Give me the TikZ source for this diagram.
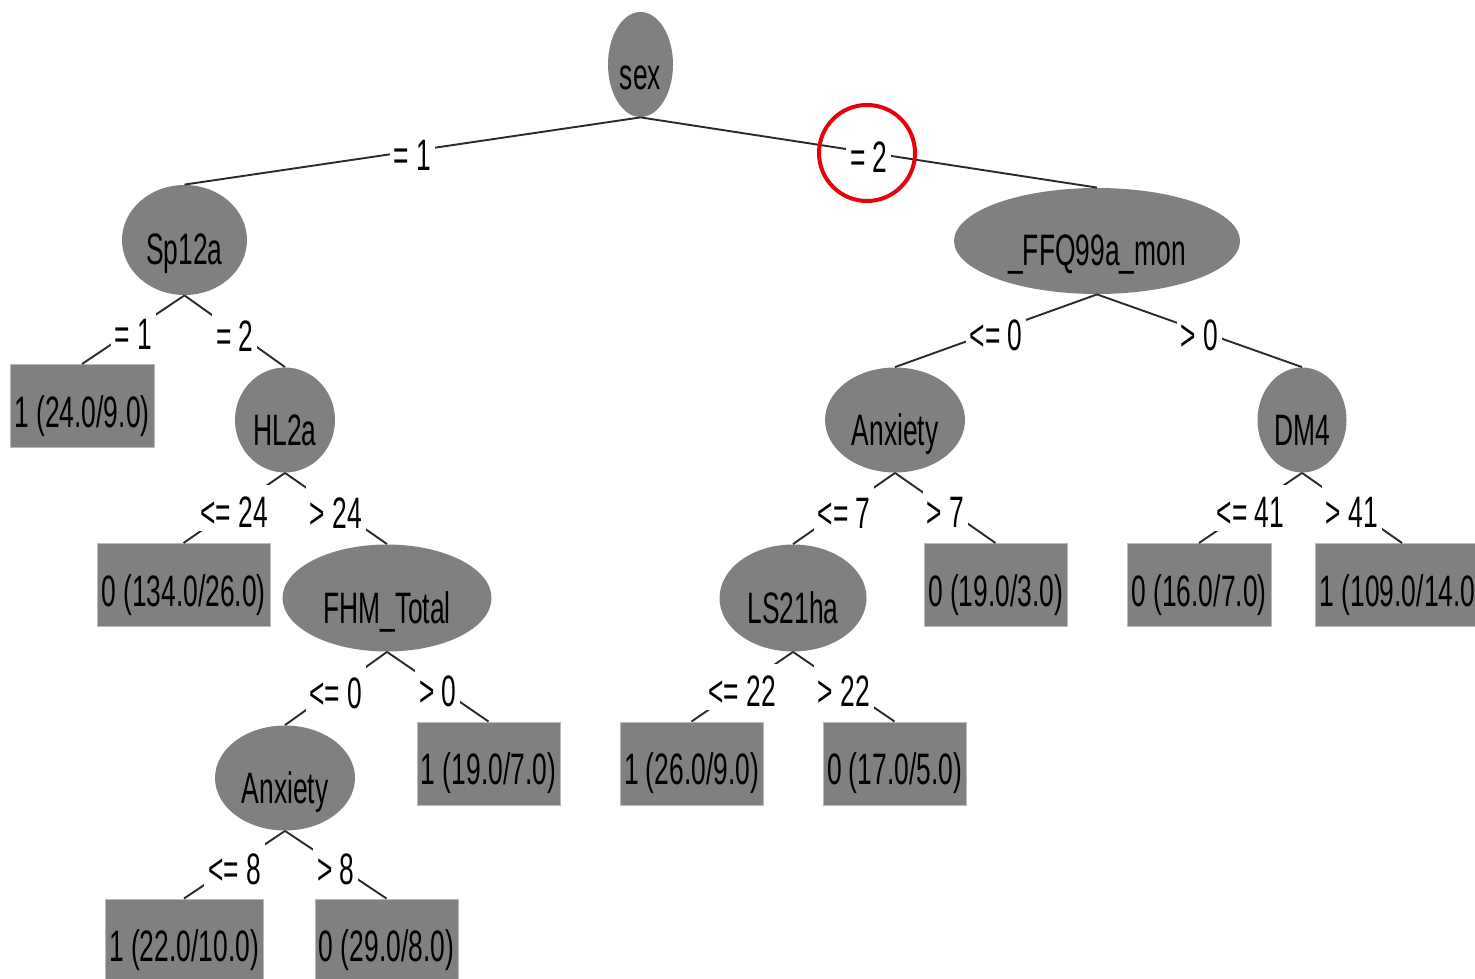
\documentclass[tikz,border=0pt]{standalone}
\usepackage{fontspec}
\newfontfamily\treefont[FakeStretch=0.6]{Liberation Sans}
\usetikzlibrary{shapes.geometric}
\definecolor{nodegray}{HTML}{808080}
\definecolor{edgegray}{HTML}{2A2A2A}
\definecolor{markred}{HTML}{E8000B}
\begin{document}
\begin{tikzpicture}[x=0.5pt,y=-0.5pt,
  every node/.style={font=\treefont\fontsize{22}{26}\selectfont},
  split/.style={ellipse, fill=nodegray, inner sep=0pt, text height=25pt, text depth=0pt},
  leaf/.style={rectangle, fill=nodegray, draw=gray!55, line width=0.5pt, inner sep=0pt,
               minimum height=41.5pt, text height=21pt, text depth=0pt},
  branch/.style={draw=edgegray, line width=0.95pt},
  cond/.style={fill=white, inner xsep=2pt, inner ysep=1.5pt, text height=20pt, text depth=0pt},
  ring/.style={draw=markred, line width=2pt}
]
\useasboundingbox (0,0) rectangle (1475,978);

% decision nodes
\node[split, minimum width=32.5pt,  minimum height=52.5pt] (sex)  at (640.5,64.5) {sex};
\node[split, minimum width=62.5pt,  minimum height=55pt]   (sp)   at (184.5,240) {Sp12a};
\node[split, minimum width=143pt,   minimum height=53pt]   (ffq)  at (1097,241) {\_FFQ99a\_mon};
\node[split, minimum width=50pt,    minimum height=52.5pt] (hl)   at (285,420) {HL2a};
\node[split, minimum width=70pt,    minimum height=52.5pt] (anxr) at (895,420) {Anxiety};
\node[split, minimum width=44.5pt,  minimum height=52.5pt] (dm)   at (1302,420) {DM4};
\node[split, minimum width=104.5pt, minimum height=53.5pt] (fhm)  at (387,598) {FHM\_Total};
\node[split, minimum width=73.5pt,  minimum height=53.5pt] (ls)   at (793,598) {LS21ha};
\node[split, minimum width=70pt,    minimum height=52.5pt] (anxl) at (285,778) {Anxiety};

% leaves
\node[leaf, minimum width=72pt]   (l1)  at (82,406)     {1 (24.0/9.0)};
\node[leaf, minimum width=86.5pt] (l2)  at (183.5,585)  {0 (134.0/26.0)};
\node[leaf, minimum width=71.5pt] (l3)  at (488.5,763.5){1 (19.0/7.0)};
\node[leaf, minimum width=79pt]   (l4)  at (184,940.5)  {1 (22.0/10.0)};
\node[leaf, minimum width=71.5pt] (l5)  at (386.5,940.5){0 (29.0/8.0)};
\node[leaf, minimum width=71.5pt] (l6)  at (691.5,763.5){1 (26.0/9.0)};
\node[leaf, minimum width=71.5pt] (l7)  at (894.5,763.5){0 (17.0/5.0)};
\node[leaf, minimum width=71.5pt] (l8)  at (995.5,585)  {0 (19.0/3.0)};
\node[leaf, minimum width=72pt]   (l9)  at (1199,585)   {0 (16.0/7.0)};
\node[leaf, minimum width=86.5pt] (l10) at (1402,585)   {1 (109.0/14.0)};

% branches with their conditions
\draw[branch] (sex.south)  -- node[cond] (c1) {= 1}   (sp.north);
\draw[branch] (sex.south)  -- node[cond] (c2) {= 2}   (ffq.north);
\draw[branch] (sp.south)   -- node[cond] (c3) {= 1}   (l1.north);
\draw[branch] (sp.south)   -- node[cond] (c4) {= 2}   (hl.north);
\draw[branch] (hl.south)   -- node[cond] (c5) {<= 24} (l2.north);
\draw[branch] (hl.south)   -- node[cond] (c6) {> 24}  (fhm.north);
\draw[branch] (fhm.south)  -- node[cond] (c7) {<= 0}  (anxl.north);
\draw[branch] (fhm.south)  -- node[cond] (c8) {> 0}   (l3.north);
\draw[branch] (anxl.south) -- node[cond] (c9) {<= 8}  (l4.north);
\draw[branch] (anxl.south) -- node[cond] (c10) {> 8}  (l5.north);
\draw[branch] (ffq.south)  -- node[cond] (c11) {<= 0} (anxr.north);
\draw[branch] (ffq.south)  -- node[cond] (c12) {> 0}  (dm.north);
\draw[branch] (anxr.south) -- node[cond] (c13) {<= 7} (ls.north);
\draw[branch] (anxr.south) -- node[cond] (c14) {> 7}  (l8.north);
\draw[branch] (dm.south)   -- node[cond] (c15) {<= 41} (l9.north);
\draw[branch] (dm.south)   -- node[cond] (c16) {> 41}  (l10.north);
\draw[branch] (ls.south)   -- node[cond] (c17) {<= 22} (l6.north);
\draw[branch] (ls.south)   -- node[cond] (c18) {> 22}  (l7.north);

% highlight ring
\draw[ring] (867,153) circle[radius=24pt];
\end{tikzpicture}
\end{document}
